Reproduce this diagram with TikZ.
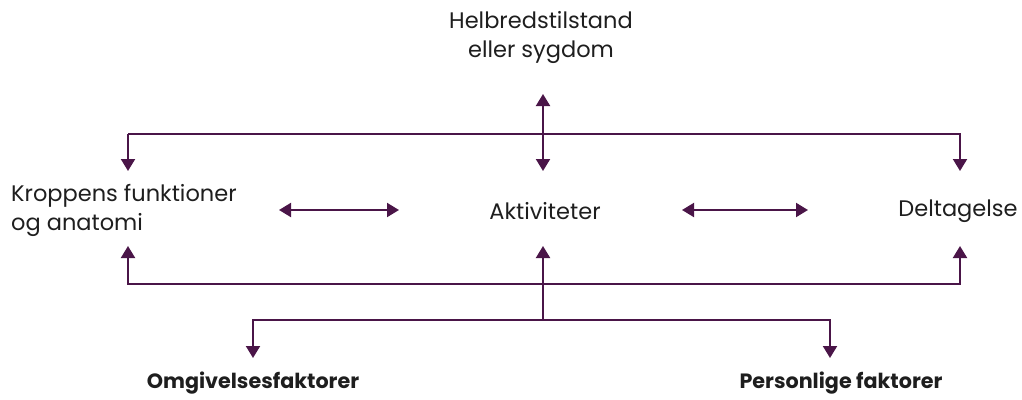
\documentclass[tikz,border=0pt]{standalone}
\usepackage{fontspec}
\setmainfont{Poppins}
\usetikzlibrary{arrows.meta}
\definecolor{plum}{HTML}{4A1548}
\definecolor{txt}{HTML}{1E1E1E}
\begin{document}
\begin{tikzpicture}[x=1pt,y=-1pt,
  lbl/.style={font=\fontsize{22.5}{29}\selectfont, text=txt, inner sep=0pt, align=center},
  blbl/.style={lbl, font=\fontsize{20.7}{29}\selectfont\bfseries},
  conn/.style={draw=plum, line width=2pt, -{Triangle[length=12pt,width=14pt]}},
  dconn/.style={draw=plum, line width=2pt, {Triangle[length=12pt,width=14pt]}-{Triangle[length=12pt,width=14pt]}}]
\useasboundingbox (0,0) rectangle (1022,399);
\node[lbl] (hel) at (541,37) {Helbredstilstand\\eller sygdom};
\node[lbl, align=left, anchor=west] (kro) at (11,210) {Kroppens funktioner\\og anatomi};
\node[lbl] (akt) at (545,211) {Aktiviteter};
\node[lbl] (del) at (958,211) {Deltagelse};
\node[blbl] (omg) at (253,383) {Omgivelsesfaktorer};
\node[blbl] (per) at (841,383) {Personlige faktorer};
% coordinates
\coordinate (ttop) at (543,94);
\coordinate (tbot) at (543,171);
\coordinate (tl) at (128,134);
\coordinate (tr) at (960,134);
\coordinate (tld) at (128,171);
\coordinate (trd) at (960,171);
\coordinate (bl) at (128,284);
\coordinate (br) at (960,284);
\coordinate (blu) at (128,246);
\coordinate (bru) at (960,246);
\coordinate (bmu) at (543,246);
\coordinate (bm) at (543,320);
\coordinate (ll) at (253,320);
\coordinate (lr) at (830,320);
\coordinate (lld) at (253,358);
\coordinate (lrd) at (830,358);
\coordinate (h1a) at (279,210);
\coordinate (h1b) at (399,210);
\coordinate (h2a) at (682,210);
\coordinate (h2b) at (808,210);
% top
\draw[dconn] (ttop) -- (tbot);
\draw[conn] (tl |- tr) -- (tl) -- (tld);
\draw[conn] (tl) -- (tr) -- (trd);
% middle
\draw[dconn] (h1a) -- (h1b);
\draw[dconn] (h2a) -- (h2b);
% bottom
\draw[conn] (br) -- (bl) -- (blu);
\draw[conn] (bl) -- (br) -- (bru);
\draw[conn] (bm) -- (bmu);
\draw[conn] (lr) -- (ll) -- (lld);
\draw[conn] (ll) -- (lr) -- (lrd);
\end{tikzpicture}
\end{document}
